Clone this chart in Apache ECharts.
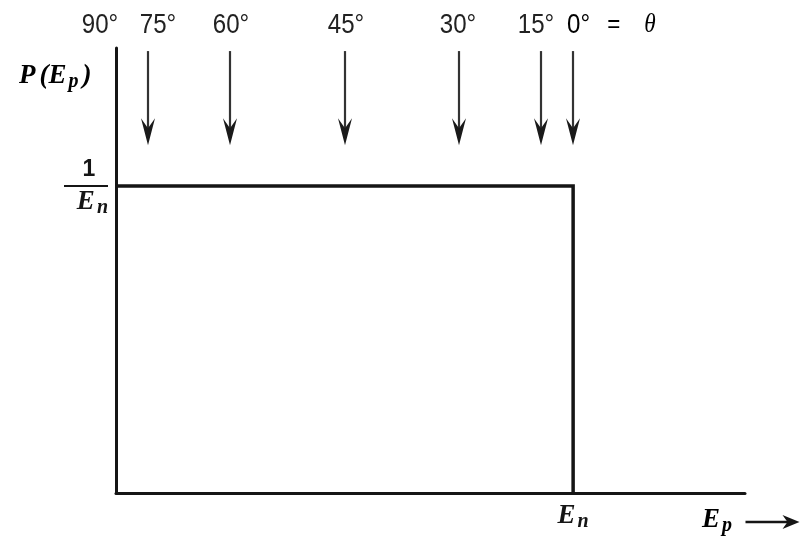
<!DOCTYPE html>
<html>
<head>
<meta charset="utf-8">
<script src="https://cdn.jsdelivr.net/npm/echarts@6/dist/echarts.min.js"></script>
<style>
  html, body { margin: 0; padding: 0; background: #ffffff; }
  #chart { width: 805px; height: 547px; }
</style>
</head>
<body>
<div id="chart"></div>
<script>
// Recoil-proton energy spectrum for n-p elastic scattering: flat at 1/En up to En.
const angleLabels = ['90°', '75°', '60°', '45°', '30°', '15°', '0°'];
// Ep / En reached by the proton at each scattering angle
const protonEnergy = [0, 0.07, 0.25, 0.5, 0.75, 0.93, 1];
// Outline of the distribution (Ep / En, P * En)
const spectrumEp = [0, 1, 1];
const spectrumP = [1, 1, 0];

// ---- layout ----
const INK = '#151515';
const SERIF = '"Liberation Serif", "Times New Roman", serif';
const SANS = '"Liberation Sans", Arial, sans-serif';
const ARROW_TOP = 1.44;   // shaft start (axis units)
const ARROW_TIP = 1.133;  // arrow tip (axis units)
const LABEL_Y = 25;       // row of the angle labels (px)
const labelNudge = [-16, 10, 1, 1, -1, -5, -6];

const chart = echarts.init(document.getElementById('chart'), null, { renderer: 'canvas' });

const italicRich = {
  e: { fontFamily: SERIF, fontStyle: 'italic', fontWeight: 'bold', fontSize: 27, color: INK, lineHeight: 30 },
  sub: { fontFamily: SERIF, fontStyle: 'italic', fontWeight: 'bold', fontSize: 20, color: INK, padding: [12, 0, 0, 2], lineHeight: 30 },
  par: { fontFamily: SERIF, fontStyle: 'italic', fontWeight: 'bold', fontSize: 27, color: INK, lineHeight: 30, padding: [0, 0, 0, 4] }
};

chart.setOption({
  backgroundColor: '#ffffff',
  animation: false,
  grid: { left: 116, right: 60, top: 48, bottom: 54 },
  xAxis: {
    type: 'value',
    min: 0,
    max: 1.376,
    axisLine: { show: true, lineStyle: { color: INK, width: 3 } },
    axisTick: { show: false },
    splitLine: { show: false },
    axisLabel: {
      customValues: [1],
      margin: 8,
      formatter: () => '{e|E}{sub|n}',
      rich: italicRich
    }
  },
  yAxis: {
    type: 'value',
    min: 0,
    max: 1.45,
    axisLine: { show: true, lineStyle: { color: INK, width: 3 } },
    axisTick: { show: false },
    splitLine: { show: false },
    axisLabel: {
      customValues: [1],
      margin: 8,
      formatter: () => '{num|1}\n{bar|}\n{e|E}{sub|n}',
      rich: Object.assign({
        num: { fontFamily: SANS, fontWeight: 'bold', fontSize: 23, color: INK, align: 'center', lineHeight: 30, padding: [0, 0, 0, 6] },
        bar: { backgroundColor: INK, height: 2, width: 44, align: 'center' }
      }, italicRich)
    }
  },
  series: [
    {
      name: 'P(Ep)',
      type: 'line',
      data: spectrumEp.map((x, i) => [x, spectrumP[i]]),
      symbol: 'none',
      lineStyle: { color: INK, width: 3.5, join: 'miter' },
      z: 3
    },
    {
      name: 'angles',
      type: 'custom',
      clip: false,
      data: protonEnergy.map(v => [v]),
      encode: { x: 0 },
      renderItem: (params, api) => {
        const i = params.dataIndex;
        const top = api.coord([api.value(0), ARROW_TOP]);
        const tip = api.coord([api.value(0), ARROW_TIP]);
        const x = Math.round(top[0]);
        const children = [];
        if (i > 0) {
          children.push({
            type: 'line',
            shape: { x1: x, y1: top[1], x2: x, y2: tip[1] - 10 },
            style: { stroke: '#333', lineWidth: 2.2 }
          });
          children.push({
            type: 'polygon',
            shape: { points: [[x, tip[1]], [x - 7, tip[1] - 27], [x, tip[1] - 17], [x + 7, tip[1] - 27]] },
            style: { fill: '#1a1a1a' }
          });
        }
        const last = i === angleLabels.length - 1;
        children.push({
          type: 'text',
          x: x + labelNudge[i],
          y: LABEL_Y,
          scaleX: 0.86,
          style: last ? {
            text: '{n|' + angleLabels[i] + '}{eq|=}{th|θ}',
            align: 'left',
            verticalAlign: 'middle',
            rich: {
              n: { fontFamily: SANS, fontSize: 28, color: '#222' },
              eq: { fontFamily: SANS, fontSize: 26, color: '#222', padding: [0, 0, 0, 20] },
              th: { fontFamily: SERIF, fontStyle: 'italic', fontSize: 27, color: '#222', padding: [0, 0, 0, 28] }
            }
          } : {
            text: angleLabels[i],
            align: 'center',
            verticalAlign: 'middle',
            fontFamily: SANS,
            fontSize: 28,
            fill: '#222'
          }
        });
        return { type: 'group', children };
      },
      z: 4
    }
  ],
  graphic: [
    {
      type: 'text',
      left: 19,
      top: 60,
      style: {
        text: '{e|P}{par|(E}{sub|p}{par|)}',
        rich: italicRich
      }
    },
    {
      type: 'text',
      left: 702,
      top: 504,
      style: {
        text: '{e|E}{sub|p}',
        rich: italicRich
      }
    },
    {
      type: 'group',
      left: 743,
      top: 515,
      children: [
        { type: 'line', shape: { x1: 0, y1: 7, x2: 44, y2: 7 }, style: { stroke: INK, lineWidth: 2.5 } },
        { type: 'polygon', shape: { points: [[54, 7], [37, 0], [42, 7], [37, 14]] }, style: { fill: INK } }
      ]
    }
  ]
});
</script>
</body>
</html>
